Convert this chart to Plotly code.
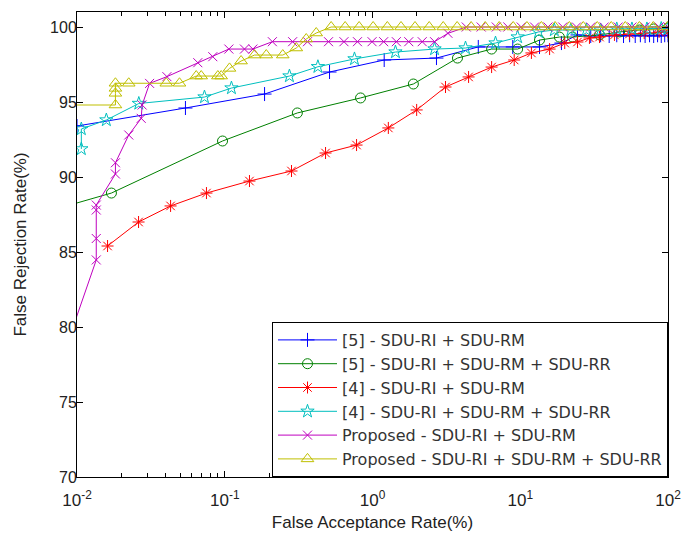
import plotly.graph_objects as go

# ---------------- data ----------------
blue_x = [0.01, 0.0542, 0.186, 0.512, 1.2, 2.71, 5.2, 8.9, 13.5, 19, 24.4, 30, 35, 40, 45,
          50, 55, 60, 65, 70, 75, 80, 85, 90, 95, 100]
blue_y = [93.4, 94.6, 95.53, 97.0, 97.8, 97.93, 98.67, 98.67, 98.67, 98.93, 99.47, 99.4, 99.45,
          99.4, 99.45, 99.4, 99.45, 99.4, 99.45, 99.4, 99.45, 99.4, 99.45, 99.4, 99.45, 99.45]

green_x = [0.007, 0.0171, 0.0966, 0.31, 0.83, 1.89, 3.76, 6.4, 9.6, 13.5, 18.4, 22.6, 34.4,
           47, 64, 80, 100]
green_y = [87.83, 88.93, 92.4, 94.27, 95.27, 96.2, 97.93, 98.53, 98.53, 99.13, 99.33, 99.33,
           99.47, 99.67, 99.8, 99.87, 99.93]

red_x = [0.0161, 0.0261, 0.043, 0.0752, 0.147, 0.283, 0.481, 0.78, 1.28, 1.99, 3.12, 4.47,
         6.4, 9.1, 11.9, 15.8, 20, 24.4, 29.4, 34.4, 43.4, 54.8, 69, 87, 100]
red_y = [85.4, 87.0, 88.07, 88.93, 89.73, 90.4, 91.6, 92.13, 93.27, 94.47, 96.0, 96.67,
         97.33, 97.8, 98.27, 98.53, 98.93, 99.0, 99.27, 99.33, 99.47, 99.53, 99.6, 99.67, 99.67]

cyan_x = [0.0107, 0.0107, 0.0158, 0.0262, 0.0729, 0.111, 0.274, 0.427, 0.755, 1.43, 2.63,
          4.26, 6.8, 9.6, 13.3, 17, 22, 28, 35, 45, 57, 72, 90, 100]
cyan_y = [91.87, 93.2, 93.8, 94.9, 95.33, 95.93, 96.73, 97.35, 97.87, 98.33, 98.53,
          98.6, 98.93, 99.33, 99.67, 99.8, 99.8, 99.8, 99.8, 99.87, 99.87, 99.87, 99.9, 99.9]

magenta_x = [0.008, 0.0135, 0.0135, 0.0135, 0.0135, 0.0182, 0.0182, 0.0224, 0.0272, 0.0276,
             0.031, 0.0406, 0.0657, 0.083, 0.1066, 0.136, 0.155, 0.210, 0.288, 0.363, 0.504,
             0.641, 0.791, 0.993, 1.19, 1.45, 1.76, 2.17, 2.63, 3.24, 4.31, 5.44, 6.88, 8.24,
             10.15, 12.5, 15.4, 19.4, 24, 30, 37, 46, 57, 70, 87, 100]
magenta_y = [78.0, 84.47, 85.9, 87.8, 88.13, 90.2, 90.95, 92.8, 93.91, 94.8,
             96.24, 96.69, 97.62, 98.02, 98.53, 98.53, 98.53, 99.02, 99.02, 99.02, 99.02,
             99.02, 99.02, 99.02, 99.02, 99.02, 99.02, 99.02, 99.02, 99.58, 100, 100, 100, 100,
             100, 100, 100, 100, 100, 100, 100, 100, 100, 100, 100, 100]

yellow_x = [0.005, 0.0182, 0.0182, 0.0182, 0.0182, 0.0224, 0.0402, 0.0494, 0.0641, 0.0693,
            0.0898, 0.0946, 0.1077, 0.129, 0.159, 0.191, 0.247, 0.305, 0.356, 0.416, 0.525,
            0.653, 0.812, 1.01, 1.26, 1.56, 1.94, 2.42, 3.01, 3.74, 4.65, 5.79, 7.2, 8.96,
            11.1, 13.9, 17.2, 21.5, 26.7, 33.2, 41.3, 51.4, 64, 79.5, 99]
yellow_y = [94.8, 94.8, 95.58, 95.91, 96.25, 96.25, 96.25, 96.25, 96.73, 96.73,
            96.73, 96.73, 97.24, 97.73, 98.13, 98.13, 98.13, 98.6, 99.2, 99.6, 100,
            100, 100, 100, 100, 100, 100, 100, 100, 100, 100, 100, 100, 100,
            100, 100, 100, 100, 100, 100, 100, 100, 100, 100, 100]

series_names = [
    "[5] - SDU-RI + SDU-RM",
    "[5] - SDU-RI + SDU-RM + SDU-RR",
    "[4] - SDU-RI + SDU-RM",
    "[4] - SDU-RI + SDU-RM + SDU-RR",
    "Proposed - SDU-RI + SDU-RM",
    "Proposed - SDU-RI + SDU-RM + SDU-RR",
]

x_tick_vals = [0.01, 0.1, 1, 10, 100]
x_tick_text = ["10<sup>-2</sup>", "10<sup>-1</sup>", "10<sup>0</sup>", "10<sup>1</sup>", "10<sup>2</sup>"]
y_tick_vals = [70, 75, 80, 85, 90, 95, 100]

# ---------------- styling ----------------
colors = ["#0000ff", "#008000", "#ff0000", "#00bfbf", "#bf00bf", "#bfbf00"]
symbols = ["cross-thin-open", "circle-open", "asterisk-open", "star-open", "x-thin-open", "triangle-up-open"]
sizes = [10, 10, 10, 10, 9, 11]
xs = [blue_x, green_x, red_x, cyan_x, magenta_x, yellow_x]
ys = [blue_y, green_y, red_y, cyan_y, magenta_y, yellow_y]

# minor log ticks 2..9 in each decade
minor_vals = [m * 10.0 ** e for e in range(-2, 2) for m in range(2, 10)]

FONT = "Liberation Sans, Arial, sans-serif"

fig = go.Figure()
for name, x, y, c, s, sz in zip(series_names, xs, ys, colors, symbols, sizes):
    fig.add_trace(go.Scatter(
        x=x, y=y, mode="lines+markers", name=name,
        line=dict(color=c, width=1),
        marker=dict(symbol=s, size=sz, color=c, line=dict(color=c, width=1)),
    ))

fig.update_layout(
    width=693, height=535,
    margin=dict(l=77, r=25, t=12, b=58, autoexpand=False),
    paper_bgcolor="white", plot_bgcolor="white",
    font=dict(family=FONT, size=16, color="#222222"),
    showlegend=True,
    legend=dict(
        x=1, y=0, xanchor="right", yanchor="bottom",
        bordercolor="black", borderwidth=1, bgcolor="white",
        font=dict(family="DejaVu Sans, Liberation Sans, sans-serif", size=16, color="#333333"),
        tracegroupgap=0, itemwidth=59,
    ),
    xaxis=dict(
        type="log", range=[-2, 2], automargin=False,
        tickvals=x_tick_vals, ticktext=x_tick_text,
        ticks="inside", ticklen=6, tickcolor="black",
        showline=True, linecolor="black", linewidth=1, mirror="allticks",
        showgrid=False, zeroline=False, ticklabelstandoff=8,
        minor=dict(tickmode="array", tickvals=minor_vals, ticks="inside", ticklen=4,
                   tickcolor="black", showgrid=False),
        title=dict(text="False Acceptance Rate(%)", font=dict(size=17), standoff=6),
        tickfont=dict(size=17),
    ),
    yaxis=dict(
        range=[70, 101], automargin=False,
        tickvals=y_tick_vals,
        ticks="inside", ticklen=6, tickcolor="black",
        showline=True, linecolor="black", linewidth=1, mirror="allticks",
        showgrid=False, zeroline=False, ticklabelstandoff=-4,
        title=dict(text="False Rejection Rate(%)", font=dict(size=17), standoff=19),
        tickfont=dict(size=16),
    ),
)

fig.write_html("out.html", config={"displayModeBar": False},
               post_script="document.body.style.margin='0px';")
